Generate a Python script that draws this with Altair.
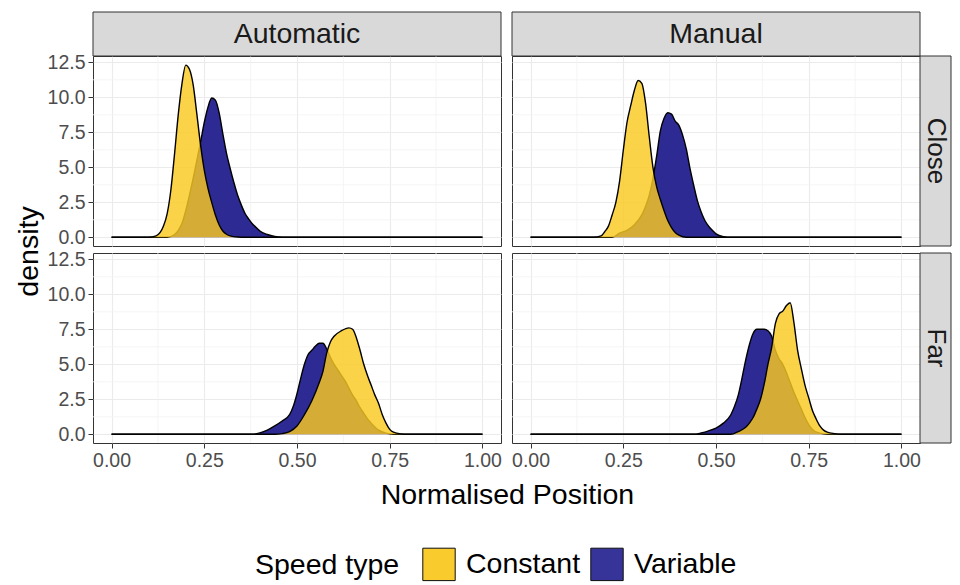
import altair as alt
import pandas as pd

# ---------------- data ----------------
MODES = ["Automatic", "Manual"]
DISTANCES = ["Close", "Far"]
SPEEDS = ["Constant", "Variable"]

X_TICKS = [0.0, 0.25, 0.5, 0.75, 1.0]
X_MINOR = [0.125, 0.375, 0.625, 0.875]
Y_TICKS = [0.0, 2.5, 5.0, 7.5, 10.0, 12.5]
Y_MINOR = [1.25, 3.75, 6.25, 8.75, 11.25]

# Automatic / Close
ac_const_x = [0.00, 0.10, 0.12, 0.14, 0.15, 0.16, 0.17, 0.18, 0.19, 0.20, 0.21, 0.22, 0.23, 0.24,
              0.25, 0.26, 0.27, 0.28, 0.29, 0.30, 0.31, 0.32, 0.34, 0.36, 1.00]
ac_const_y = [0, 0, 0.1, 0.8, 1.7, 3.4, 6.0, 8.8, 11.0, 12.3, 12.0, 10.9, 8.8, 6.6,
              4.8, 3.5, 2.5, 1.6, 0.9, 0.45, 0.22, 0.1, 0.02, 0, 0]
ac_var_x = [0.00, 0.15, 0.17, 0.18, 0.19, 0.20, 0.21, 0.22, 0.23, 0.24, 0.25, 0.26, 0.27, 0.28,
            0.29, 0.30, 0.31, 0.32, 0.33, 0.34, 0.35, 0.36, 0.37, 0.38, 0.39, 0.40, 0.42, 0.44,
            0.46, 1.00]
ac_var_y = [0, 0, 0.2, 0.5, 1.0, 1.9, 3.0, 4.2, 5.5, 6.8, 8.2, 9.3, 9.95, 9.8,
            8.9, 7.4, 6.0, 4.9, 3.9, 3.0, 2.3, 1.7, 1.3, 0.95, 0.7, 0.45, 0.2, 0.06,
            0, 0]

# Manual / Close
mc_const_x = [0.00, 0.17, 0.19, 0.20, 0.21, 0.22, 0.23, 0.24, 0.25, 0.26, 0.27, 0.28, 0.29, 0.30,
              0.31, 0.32, 0.33, 0.34, 0.35, 0.36, 0.37, 0.38, 0.39, 0.40, 0.42, 1.00]
mc_const_y = [0, 0, 0.1, 0.4, 0.8, 1.6, 2.5, 4.0, 6.2, 8.2, 9.4, 10.5, 11.2, 11.0,
              9.6, 7.2, 5.0, 3.6, 2.7, 1.9, 1.2, 0.7, 0.35, 0.15, 0, 0]
mc_var_x = [0.00, 0.22, 0.24, 0.26, 0.28, 0.30, 0.31, 0.32, 0.33, 0.34, 0.35, 0.36, 0.37, 0.38,
            0.39, 0.40, 0.41, 0.42, 0.43, 0.44, 0.45, 0.46, 0.47, 0.48, 0.49, 0.50, 0.52, 0.54,
            1.00]
mc_var_y = [0, 0, 0.3, 0.5, 0.9, 1.6, 2.2, 3.0, 4.2, 5.8, 7.6, 8.5, 8.9, 8.8,
            8.3, 8.0, 7.3, 6.3, 4.9, 3.7, 2.6, 1.8, 1.2, 0.8, 0.5, 0.25, 0.05, 0,
            0]

# Automatic / Far
af_const_x = [0.00, 0.44, 0.46, 0.48, 0.50, 0.52, 0.54, 0.56, 0.57, 0.58, 0.59, 0.60, 0.62, 0.64,
              0.65, 0.66, 0.67, 0.68, 0.69, 0.70, 0.71, 0.72, 0.73, 0.74, 0.75, 0.76, 0.78, 0.80,
              1.00]
af_const_y = [0, 0, 0.05, 0.2, 0.6, 1.4, 2.4, 3.7, 4.5, 5.8, 6.6, 7.0, 7.4, 7.6,
              7.5, 6.9, 6.0, 5.0, 4.2, 3.5, 2.8, 2.2, 1.4, 0.8, 0.35, 0.15, 0.03, 0,
              0]
af_var_x = [0.00, 0.38, 0.40, 0.42, 0.44, 0.46, 0.48, 0.49, 0.50, 0.51, 0.52, 0.53, 0.54, 0.55,
            0.56, 0.57, 0.58, 0.59, 0.60, 0.61, 0.62, 0.63, 0.64, 0.65, 0.66, 0.67, 0.68, 0.69,
            0.70, 0.72, 0.74, 0.76, 1.00]
af_var_y = [0, 0, 0.1, 0.3, 0.6, 0.95, 1.4, 2.0, 2.9, 4.0, 5.0, 5.7, 6.0, 6.3,
            6.5, 6.5, 6.1, 5.5, 5.0, 4.6, 4.2, 3.8, 3.3, 2.8, 2.4, 1.9, 1.5, 1.1,
            0.8, 0.3, 0.08, 0, 0]

# Manual / Far
mf_const_x = [0.00, 0.54, 0.56, 0.58, 0.59, 0.60, 0.61, 0.62, 0.63, 0.64, 0.65, 0.66, 0.67, 0.68,
              0.69, 0.70, 0.71, 0.72, 0.73, 0.74, 0.75, 0.76, 0.77, 0.78, 0.79, 0.80, 0.82, 0.84,
              1.00]
mf_const_y = [0, 0, 0.2, 0.5, 0.8, 1.2, 1.8, 2.5, 3.6, 5.0, 6.2, 7.9, 8.6, 8.8,
              9.2, 9.4, 8.0, 6.0, 4.7, 3.5, 2.6, 1.7, 1.1, 0.6, 0.3, 0.15, 0.05, 0,
              0]
mf_var_x = [0.00, 0.44, 0.46, 0.48, 0.50, 0.52, 0.54, 0.55, 0.56, 0.57, 0.58, 0.59, 0.60, 0.61,
            0.62, 0.63, 0.64, 0.65, 0.66, 0.67, 0.68, 0.69, 0.70, 0.71, 0.72, 0.73, 0.74, 0.75,
            0.76, 0.78, 0.80, 1.00]
mf_var_y = [0, 0, 0.1, 0.25, 0.45, 0.8, 1.4, 2.0, 2.8, 4.0, 5.3, 6.4, 7.2, 7.5,
            7.5, 7.5, 7.4, 7.0, 6.0, 5.4, 5.0, 4.4, 3.7, 3.0, 2.4, 1.8, 1.2, 0.7,
            0.35, 0.08, 0, 0]

SERIES = {
    ("Automatic", "Close", "Constant"): (ac_const_x, ac_const_y),
    ("Automatic", "Close", "Variable"): (ac_var_x, ac_var_y),
    ("Manual", "Close", "Constant"): (mc_const_x, mc_const_y),
    ("Manual", "Close", "Variable"): (mc_var_x, mc_var_y),
    ("Automatic", "Far", "Constant"): (af_const_x, af_const_y),
    ("Automatic", "Far", "Variable"): (af_var_x, af_var_y),
    ("Manual", "Far", "Constant"): (mf_const_x, mf_const_y),
    ("Manual", "Far", "Variable"): (mf_var_x, mf_var_y),
}

frames = []
for (mode, dist, speed), (xs, ys) in SERIES.items():
    frames.append(pd.DataFrame({"mode": mode, "dist": dist, "Speed type": speed,
                                "pos": xs, "density": ys}))
df = pd.concat(frames, ignore_index=True)

# ---------------- styling ----------------
FONT = "Liberation Sans"
CONST_COLOR = "#F9C921"
VAR_COLOR = "#2D2A94"
W, H = 408, 190
STRIP = 44
RSTRIP = 31

x_scale = alt.Scale(domain=[-0.05, 1.05], nice=False, zero=False)
y_scale = alt.Scale(domain=[-0.62, 12.95], nice=False, zero=False)
fill_scale = alt.Scale(domain=SPEEDS, range=[CONST_COLOR, VAR_COLOR])

legend = alt.Legend(
    title="Speed type", orient="none", legendX=162, legendY=491, direction="horizontal",
    titleOrient="left", titleFontSize=28.5, titleFont=FONT, titleFontWeight="normal",
    titleColor="black", titlePadding=22, titleBaseline="middle",
    labelFontSize=28.5, labelFont=FONT, labelColor="black", labelOffset=10,
    symbolType="square", symbolSize=1050, symbolStrokeColor="black", symbolStrokeWidth=1,
    columnPadding=7, symbolOpacity=0.95,
)


def make_axes(show_x, show_y, x_title, y_title):
    xa = dict(values=X_TICKS, format=".2f", grid=True, labels=show_x, ticks=show_x,
              domain=False, title=None)
    ya = dict(values=Y_TICKS, format=".1f", grid=True, labels=show_y, ticks=show_y,
              domain=False, title=None)
    if x_title:
        xa.update(title="Normalised Position", titleX=414, titleY=51, titleAlign="center",
                  titleBaseline="middle")
    if y_title:
        ya.update(title="density", titleX=-65, titleY=195, titleAlign="center",
                  titleBaseline="middle", titleAngle=-90)
    return alt.Axis(**xa), alt.Axis(**ya)


def panel(mode, dist, show_x, show_y, x_title=False, y_title=False,
          top_strip=False, right_strip=False):
    xa, ya = make_axes(show_x, show_y, x_title, y_title)
    X = alt.X("pos:Q", scale=x_scale, axis=xa)
    Y = alt.Y("density:Q", scale=y_scale, axis=ya)
    d = df[(df["mode"] == mode) & (df["dist"] == dist)]

    minor_x = alt.Chart(pd.DataFrame({"pos": X_MINOR})).mark_rule(
        color="#F3F3F3", strokeWidth=0.8).encode(x=X)
    minor_y = alt.Chart(pd.DataFrame({"density": Y_MINOR})).mark_rule(
        color="#F3F3F3", strokeWidth=0.8).encode(y=Y)

    layers = [minor_x, minor_y]
    for speed, op in [("Variable", 1.0), ("Constant", 0.82)]:
        ds = d[d["Speed type"] == speed]
        area = alt.Chart(ds).mark_area(interpolate="monotone", fillOpacity=op).encode(
            x=X, y=Y,
            fill=alt.Fill("Speed type:N", scale=fill_scale, legend=legend))
        line = alt.Chart(ds).mark_line(interpolate="monotone", color="black",
                                       strokeWidth=1.4).encode(x=X, y=Y)
        layers += [area, line]

    if top_strip:
        sd = alt.Data(values=[{"label": mode}])
        layers.append(alt.Chart(sd).mark_rect(fill="#D9D9D9", stroke="#333333",
                                              strokeWidth=1).encode(
            x=alt.value(0), x2=alt.value(W), y=alt.value(-STRIP), y2=alt.value(0)))
        layers.append(alt.Chart(sd).mark_text(font=FONT, fontSize=28.5, color="#1A1A1A",
                                              baseline="middle").encode(
            x=alt.value(W / 2), y=alt.value(-STRIP / 2), text="label:N"))
    if right_strip:
        sd = alt.Data(values=[{"label": dist}])
        layers.append(alt.Chart(sd).mark_rect(fill="#D9D9D9", stroke="#333333",
                                              strokeWidth=1).encode(
            x=alt.value(W), x2=alt.value(W + RSTRIP), y=alt.value(0), y2=alt.value(H)))
        layers.append(alt.Chart(sd).mark_text(font=FONT, fontSize=26, color="#1A1A1A",
                                              baseline="middle", angle=90).encode(
            x=alt.value(W + RSTRIP / 2), y=alt.value(H / 2), text="label:N"))

    return alt.layer(*layers).properties(width=W, height=H)


p_ac = panel("Automatic", "Close", show_x=False, show_y=True, y_title=True, top_strip=True)
p_mc = panel("Manual", "Close", show_x=False, show_y=False, top_strip=True, right_strip=True)
p_af = panel("Automatic", "Far", show_x=True, show_y=True, x_title=True)
p_mf = panel("Manual", "Far", show_x=True, show_y=False, right_strip=True)

chart = alt.concat(
    p_ac, p_mc, p_af, p_mf, columns=2, spacing={"row": 7, "column": 11}, bounds="flush"
).properties(
    padding={"left": 5, "top": 3, "right": 0, "bottom": 0}
).configure(
    font=FONT
).configure_view(
    stroke="#333333", strokeWidth=1
).configure_axis(
    gridColor="#EBEBEB", gridWidth=1.1, tickColor="#333333", tickSize=5,
    labelColor="#4D4D4D", labelFontSize=19.5, labelFont=FONT, labelPadding=3,
    titleFont=FONT, titleFontSize=28.5, titleFontWeight="normal", titleColor="black",
    labelOverlap=False, labelFlush=False
)

chart.save("out.html", embed_options={"renderer": "svg", "actions": False})
